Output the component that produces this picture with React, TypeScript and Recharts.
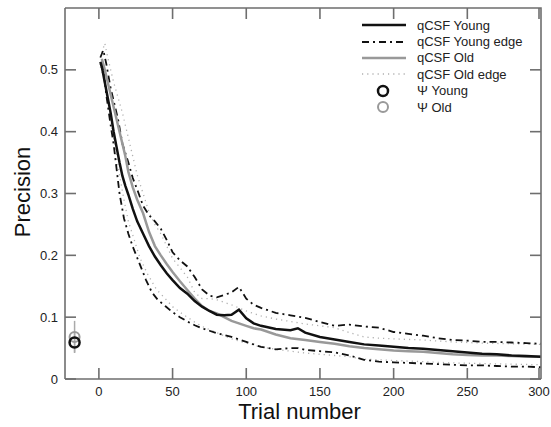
import { ComposedChart, ErrorBar, Line, Scatter, XAxis, YAxis } from "recharts";

// qCSF, young observers
const youngTrials = [1, 2, 4, 6, 8, 10, 12, 14, 16, 18, 20, 23, 26, 30, 34, 38, 42, 46, 50, 55, 60, 65, 70, 75, 80, 85, 90, 95, 100, 105, 110, 120, 130, 135, 140, 150, 160, 170, 180, 190, 200, 210, 220, 230, 240, 250, 260, 270, 280, 290, 300];
const youngMean = [0.513, 0.505, 0.48, 0.455, 0.43, 0.4, 0.375, 0.35, 0.328, 0.312, 0.298, 0.275, 0.255, 0.235, 0.215, 0.198, 0.184, 0.171, 0.16, 0.147, 0.138, 0.126, 0.117, 0.11, 0.104, 0.103, 0.104, 0.112, 0.098, 0.09, 0.086, 0.081, 0.079, 0.082, 0.075, 0.068, 0.064, 0.06, 0.056, 0.054, 0.052, 0.05, 0.049, 0.047, 0.045, 0.043, 0.041, 0.04, 0.038, 0.037, 0.036];

const youngEdgeTrials = [1, 3, 5, 8, 10, 13, 16, 20, 23, 27, 30, 34, 38, 42, 46, 50, 55, 60, 65, 70, 75, 80, 85, 90, 95, 100, 105, 110, 120, 130, 140, 150, 160, 170, 180, 190, 200, 210, 220, 230, 240, 250, 260, 270, 280, 290, 300];
const youngUpper = [0.52, 0.532, 0.51, 0.47, 0.45, 0.42, 0.38, 0.35, 0.325, 0.3, 0.28, 0.265, 0.255, 0.243, 0.225, 0.205, 0.192, 0.182, 0.165, 0.145, 0.135, 0.132, 0.136, 0.14, 0.149, 0.13, 0.12, 0.115, 0.107, 0.103, 0.099, 0.092, 0.086, 0.088, 0.085, 0.083, 0.076, 0.073, 0.07, 0.066, 0.063, 0.062, 0.06, 0.06, 0.059, 0.058, 0.057];

const youngLowerTrials = [1, 3, 5, 8, 10, 12, 14, 17, 20, 23, 27, 32, 36, 40, 45, 50, 55, 60, 65, 70, 75, 80, 85, 90, 95, 100, 110, 120, 130, 135, 140, 150, 160, 170, 180, 190, 200, 210, 220, 230, 240, 250, 260, 270, 280, 290, 300];
const youngLower = [0.51, 0.5, 0.46, 0.41, 0.38, 0.34, 0.3, 0.26, 0.235, 0.214, 0.19, 0.16, 0.14, 0.128, 0.118, 0.108, 0.1, 0.093, 0.087, 0.082, 0.078, 0.074, 0.071, 0.068, 0.064, 0.06, 0.052, 0.048, 0.05, 0.05, 0.047, 0.045, 0.043, 0.038, 0.031, 0.028, 0.027, 0.026, 0.025, 0.024, 0.023, 0.022, 0.022, 0.021, 0.02, 0.02, 0.019];

// qCSF, old observers
const oldTrials = [2, 4, 6, 8, 10, 12, 14, 16, 18, 20, 23, 26, 30, 34, 38, 42, 46, 50, 55, 60, 65, 70, 75, 80, 85, 90, 95, 100, 105, 110, 120, 130, 140, 150, 160, 170, 180, 190, 200, 210, 220, 230, 240, 250, 260, 270, 280, 290, 300];
const oldMean = [0.518, 0.5, 0.48, 0.46, 0.44, 0.42, 0.4, 0.38, 0.36, 0.335, 0.31, 0.29, 0.268, 0.238, 0.215, 0.2, 0.186, 0.173, 0.158, 0.144, 0.13, 0.118, 0.11, 0.106, 0.1, 0.094, 0.09, 0.086, 0.082, 0.08, 0.072, 0.066, 0.063, 0.06, 0.057, 0.053, 0.05, 0.048, 0.046, 0.045, 0.044, 0.042, 0.04, 0.039, 0.038, 0.038, 0.037, 0.036, 0.036];

const oldUpperTrials = [1, 4, 6, 8, 10, 13, 16, 20, 23, 26, 30, 34, 38, 42, 46, 50, 55, 60, 65, 70, 75, 80, 90, 100, 110, 120, 130, 140, 150, 160, 170, 180, 190, 200, 220, 240, 260, 280, 300];
const oldUpper = [0.52, 0.543, 0.52, 0.5, 0.48, 0.455, 0.43, 0.39, 0.36, 0.33, 0.3, 0.27, 0.25, 0.235, 0.215, 0.195, 0.18, 0.165, 0.14, 0.13, 0.13, 0.128, 0.12, 0.11, 0.102, 0.097, 0.093, 0.089, 0.086, 0.083, 0.075, 0.068, 0.066, 0.065, 0.063, 0.06, 0.058, 0.057, 0.056];

const oldLowerTrials = [1, 3, 5, 8, 10, 12, 14, 17, 20, 24, 28, 33, 39, 45, 50, 55, 60, 65, 70, 80, 90, 100, 110, 120, 130, 140, 150, 160, 170, 180, 200, 220, 240, 260, 280, 300];
const oldLower = [0.505, 0.49, 0.47, 0.42, 0.39, 0.36, 0.33, 0.29, 0.255, 0.225, 0.195, 0.17, 0.145, 0.13, 0.117, 0.108, 0.1, 0.092, 0.085, 0.075, 0.065, 0.058, 0.052, 0.048, 0.045, 0.042, 0.04, 0.038, 0.036, 0.032, 0.03, 0.028, 0.026, 0.025, 0.024, 0.023];

// Psi method estimates (shown left of trial 0)
const psiTrial = [-16.5];
const psiYoung = [0.059];
const psiYoungErr = [0.016];
const psiOld = [0.068];
const psiOldErr = [0.026];

const xTicks = [0, 50, 100, 150, 200, 250, 300];
const yTicks = [0, 0.1, 0.2, 0.3, 0.4, 0.5];
const xDomain = [-23, 300];
const yDomain = [0, 0.6];

const pts = (xs: number[], ys: number[]) => xs.map((x, i) => ({ x, y: ys[i] }));
const psiPts = (ys: number[], errs: number[]) =>
  psiTrial.map((x, i) => ({ x, y: ys[i], err: errs[i] }));

const W = 551;
const H = 427;
const M = { top: 8, right: 10, bottom: 0, left: 0 };
const X_AXIS_H = 48;
const Y_AXIS_W = 65;
// plot box edges, derived from the margins above
const BOX_L = M.left + Y_AXIS_W;
const BOX_R = W - M.right;
const BOX_T = M.top;
const BOX_B = H - M.bottom - X_AXIS_H;

const FRAME = "#6e6e6e";
const FRAME_W = 1.6;
const FONT = "'Liberation Sans', Arial, sans-serif";
const TICK = 11;

// bottom tick: inward tick at bottom and matching one on the top edge
function BottomTick({ x, y, payload }: any) {
  const ay = y - 10;
  return (
    <g>
      <path d={`M${x},${ay}L${x},${ay - TICK}`} stroke={FRAME} strokeWidth={FRAME_W} fill="none" />
      <path d={`M${x},${BOX_T}L${x},${BOX_T + TICK}`} stroke={FRAME} strokeWidth={FRAME_W} fill="none" />
      <text x={x} y={ay + 17} textAnchor="middle" fontSize={13} fill="#222" fontFamily={FONT}>
        {payload.value}
      </text>
    </g>
  );
}

// left tick: inward tick at left and matching one on the right edge
function LeftTick({ x, y, payload }: any) {
  const ax = x + 7;
  return (
    <g>
      <path d={`M${ax},${y}L${ax + TICK},${y}`} stroke={FRAME} strokeWidth={FRAME_W} fill="none" />
      <path d={`M${BOX_R},${y}L${BOX_R - TICK},${y}`} stroke={FRAME} strokeWidth={FRAME_W} fill="none" />
      <text x={ax - 7} y={y + 4.5} textAnchor="end" fontSize={13} fill="#222" fontFamily={FONT}>
        {payload.value === 0 ? "0" : payload.value.toFixed(1)}
      </text>
    </g>
  );
}

const ring = (color: string, w: number) => (p: any) =>
  <circle cx={p.cx} cy={p.cy} r={5} fill="none" stroke={color} strokeWidth={w} />;

const legendRows = [
  { label: "qCSF Young", kind: "line", color: "#111", dash: undefined, w: 2.5 },
  { label: "qCSF Young edge", kind: "line", color: "#111", dash: "7 4 2 4", w: 1.8 },
  { label: "qCSF Old", kind: "line", color: "#999", dash: undefined, w: 2.5 },
  { label: "qCSF Old edge", kind: "line", color: "#b0b0b0", dash: "1.2 4", w: 1.3 },
  { label: "Ψ Young", kind: "dot", color: "#111", dash: undefined, w: 2.5 },
  { label: "Ψ Old", kind: "dot", color: "#999", dash: undefined, w: 2 },
];

export default function App() {
  return (
    <div style={{ position: "absolute", left: 0, top: 0, width: W, height: H, background: "#fff", fontFamily: FONT }}>
      <ComposedChart width={W} height={H} margin={M}>
        <XAxis
          type="number"
          dataKey="x"
          domain={xDomain}
          allowDataOverflow
          ticks={xTicks}
          height={X_AXIS_H}
          tickSize={0}
          tickMargin={10}
          tickLine={false}
          axisLine={{ stroke: FRAME, strokeWidth: FRAME_W }}
          tick={<BottomTick />}
        />
        <YAxis
          type="number"
          domain={yDomain}
          allowDataOverflow
          ticks={yTicks}
          width={Y_AXIS_W}
          tickSize={0}
          tickMargin={7}
          tickLine={false}
          axisLine={{ stroke: FRAME, strokeWidth: FRAME_W }}
          tick={<LeftTick />}
        />
        <Line data={pts(oldUpperTrials, oldUpper)} dataKey="y" stroke="#b0b0b0" strokeWidth={1.3} strokeDasharray="1.2 4" dot={false} isAnimationActive={false} />
        <Line data={pts(oldLowerTrials, oldLower)} dataKey="y" stroke="#b0b0b0" strokeWidth={1.3} strokeDasharray="1.2 4" dot={false} isAnimationActive={false} />
        <Line data={pts(youngEdgeTrials, youngUpper)} dataKey="y" stroke="#111" strokeWidth={1.8} strokeDasharray="7 4 2 4" dot={false} isAnimationActive={false} />
        <Line data={pts(youngLowerTrials, youngLower)} dataKey="y" stroke="#111" strokeWidth={1.8} strokeDasharray="7 4 2 4" dot={false} isAnimationActive={false} />
        <Line data={pts(oldTrials, oldMean)} dataKey="y" stroke="#999" strokeWidth={2.5} dot={false} isAnimationActive={false} />
        <Line data={pts(youngTrials, youngMean)} dataKey="y" stroke="#111" strokeWidth={2.5} dot={false} isAnimationActive={false} />
        <Scatter data={psiPts(psiOld, psiOldErr)} dataKey="y" shape={ring("#999", 2)} isAnimationActive={false}>
          <ErrorBar dataKey="err" direction="y" width={0} stroke="#aaa" strokeWidth={1.5} />
        </Scatter>
        <Scatter data={psiPts(psiYoung, psiYoungErr)} dataKey="y" shape={ring("#111", 2.5)} isAnimationActive={false}>
          <ErrorBar dataKey="err" direction="y" width={0} stroke="#aaa" strokeWidth={1.5} />
        </Scatter>
      </ComposedChart>

      {/* top and right edges of the box */}
      <svg width={W} height={H} style={{ position: "absolute", left: 0, top: 0 }}>
        <path d={`M${BOX_L},${BOX_T}L${BOX_R},${BOX_T}L${BOX_R},${BOX_B}`} stroke={FRAME} strokeWidth={FRAME_W} fill="none" />
      </svg>

      <div style={{ position: "absolute", left: 0, width: W, top: 401, textAlign: "center", paddingLeft: 48, boxSizing: "border-box", fontSize: 22, color: "#111", lineHeight: "22px" }}>
        Trial number
      </div>
      <div style={{ position: "absolute", left: 23, top: 192, transform: "translate(-50%, -50%) rotate(-90deg)", fontSize: 22, color: "#111", whiteSpace: "nowrap", lineHeight: "24px" }}>
        Precision
      </div>

      <div style={{ position: "absolute", left: 360, top: 17 }}>
        {legendRows.map((r) => (
          <div key={r.label} style={{ display: "flex", alignItems: "center", height: 16.4, fontSize: 13, color: "#222" }}>
            <svg width={48} height={16}>
              {r.kind === "line" ? (
                <line x1={2} x2={46} y1={8} y2={8} stroke={r.color} strokeWidth={r.w} strokeDasharray={r.dash} />
              ) : (
                <circle cx={23} cy={8} r={5} fill="none" stroke={r.color} strokeWidth={r.w} />
              )}
            </svg>
            <span style={{ marginLeft: 9 }}>{r.label}</span>
          </div>
        ))}
      </div>
    </div>
  );
}
